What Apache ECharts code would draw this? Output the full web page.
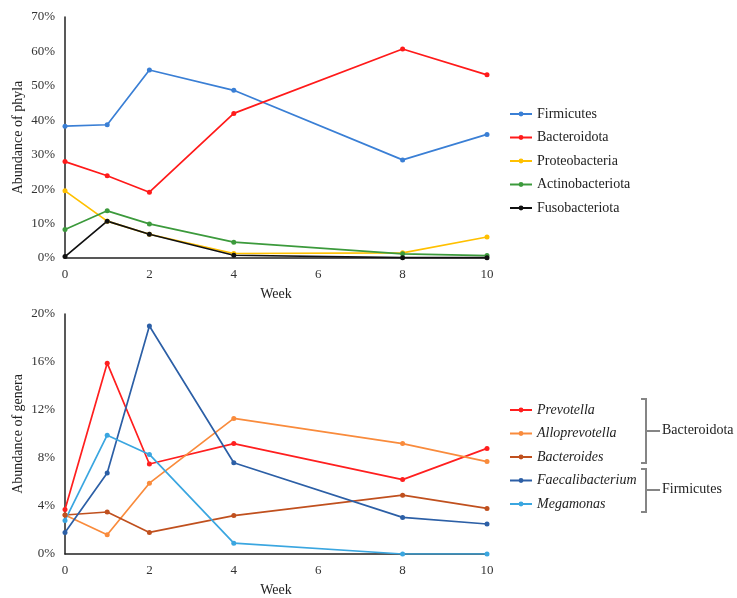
<!DOCTYPE html>
<html>
<head>
<meta charset="utf-8">
<script src="https://cdn.jsdelivr.net/npm/echarts@6/dist/echarts.min.js"></script>
<style>
  html, body { margin: 0; padding: 0; background: #fff; }
  #main { width: 737px; height: 598px; }
</style>
</head>
<body>
<div id="main"></div>
<script>
// weeks sampled
const weeks = [0, 1, 2, 4, 8, 10];

// phyla (%)
const phylaNames = ['Firmicutes', 'Bacteroidota', 'Proteobacteria', 'Actinobacteriota', 'Fusobacteriota'];
const firmicutes = [38.3, 38.7, 54.6, 48.7, 28.5, 35.9];
const bacteroidota = [28.0, 23.9, 19.1, 42.0, 60.7, 53.2];
const proteobacteria = [19.5, 10.7, 6.9, 1.3, 1.5, 6.1];
const actinobacteriota = [8.3, 13.7, 9.9, 4.6, 1.2, 0.7];
const fusobacteriota = [0.4, 10.7, 6.9, 0.8, 0.1, 0.1];

// genera (%)
const generaNames = ['Prevotella', 'Alloprevotella', 'Bacteroides', 'Faecalibacterium', 'Megamonas'];
const prevotella = [3.7, 15.9, 7.5, 9.2, 6.2, 8.8];
const alloprevotella = [3.25, 1.6, 5.9, 11.3, 9.2, 7.7];
const bacteroides = [3.25, 3.5, 1.8, 3.2, 4.9, 3.8];
const faecalibacterium = [1.8, 6.75, 19.0, 7.6, 3.05, 2.5];
const megamonas = [2.8, 9.9, 8.3, 0.9, 0.0, 0.0];

const phylaColors = ['#3a7fd5', '#ff1a1a', '#ffc000', '#3c9a3c', '#111111'];
const generaColors = ['#ff1f1f', '#f98b3c', '#c0501e', '#2c5fa6', '#3aa6e0'];

const serif = '"Liberation Serif", "DejaVu Serif", serif';

const pair = (arr) => arr.map((v, i) => [weeks[i], v]);

const mkSeries = (name, data, color, idx) => ({
  name: name,
  type: 'line',
  xAxisIndex: idx,
  yAxisIndex: idx,
  data: pair(data),
  symbol: 'circle',
  symbolSize: 5,
  lineStyle: { width: 1.7, color: color },
  itemStyle: { color: color },
  emphasis: { disabled: true }
});

const axisX = (idx) => ({
  gridIndex: idx,
  type: 'value',
  min: 0, max: 10, interval: 2,
  name: 'Week',
  nameLocation: 'middle',
  nameGap: 29,
  nameTextStyle: { fontFamily: serif, fontSize: 14, color: '#222' },
  axisLine: { lineStyle: { color: '#222', width: 1.5 } },
  axisTick: { show: false },
  splitLine: { show: false },
  axisLabel: { fontFamily: serif, fontSize: 13, color: '#333', margin: 10 }
});

const axisY = (idx, max, step, title) => ({
  gridIndex: idx,
  type: 'value',
  min: 0, max: max, interval: step,
  name: title,
  nameLocation: 'middle',
  nameGap: 40,
  nameMoveOverlap: false,
  nameTextStyle: { fontFamily: serif, fontSize: 14, color: '#222' },
  axisLine: { show: true, lineStyle: { color: '#222', width: 1.5 } },
  axisTick: { show: false },
  splitLine: { show: false },
  axisLabel: { fontFamily: serif, fontSize: 13, color: '#333', formatter: '{value}%', margin: 10 }
});

const chart = echarts.init(document.getElementById('main'));

const series = []
  .concat([firmicutes, bacteroidota, proteobacteria, actinobacteriota, fusobacteriota]
    .map((d, i) => mkSeries(phylaNames[i], d, phylaColors[i], 0)))
  .concat([prevotella, alloprevotella, bacteroides, faecalibacterium, megamonas]
    .map((d, i) => mkSeries(generaNames[i], d, generaColors[i], 1)));

// brackets grouping genera
const gray = '#858585';
const bracket = (x, y1, y2, ym) => ([
  { type: 'polyline', shape: { points: [[x - 5, y1], [x, y1], [x, y2], [x - 5, y2]] }, style: { stroke: gray, lineWidth: 2, fill: null } },
  { type: 'line', shape: { x1: x, y1: ym, x2: x + 14, y2: ym }, style: { stroke: gray, lineWidth: 2 } }
]);

chart.setOption({
  animation: false,
  backgroundColor: '#fff',
  grid: [
    { left: 65, right: 250, top: 17, height: 241, outerBoundsMode: 'none' },
    { left: 65, right: 250, top: 314, height: 240, outerBoundsMode: 'none' }
  ],
  xAxis: [axisX(0), axisX(1)],
  yAxis: [axisY(0, 70, 10, 'Abundance of phyla'), axisY(1, 20, 4, 'Abundance of genera')],
  legend: [
    {
      data: phylaNames,
      orient: 'vertical',
      left: 504, top: 102,
      itemWidth: 22, itemHeight: 6, itemGap: 9.5,
      textStyle: { fontFamily: serif, fontSize: 14, color: '#222' }
    },
    {
      data: generaNames,
      orient: 'vertical',
      left: 504, top: 398,
      itemWidth: 22, itemHeight: 6, itemGap: 9.5,
      textStyle: { fontFamily: serif, fontSize: 14, color: '#222', fontStyle: 'italic' }
    }
  ],
  graphic: bracket(646, 399, 463, 431)
    .concat(bracket(646, 469, 512, 490))
    .concat([
      { type: 'text', left: 662, top: 423, style: { text: 'Bacteroidota', font: '14px ' + serif, fill: '#222' } },
      { type: 'text', left: 662, top: 482, style: { text: 'Firmicutes', font: '14px ' + serif, fill: '#222' } }
    ]),
  series: series
});
</script>
</body>
</html>
